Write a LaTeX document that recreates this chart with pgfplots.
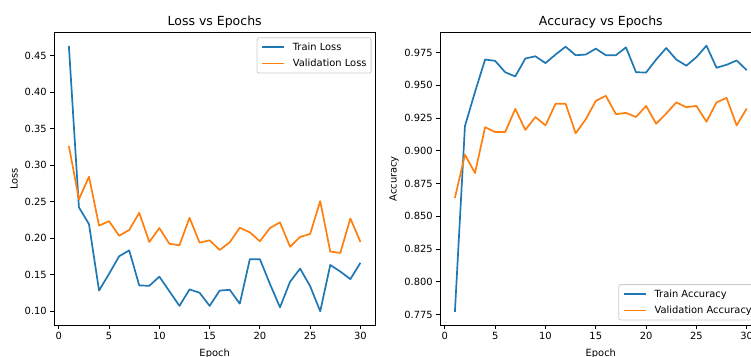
\documentclass[border=0pt]{standalone}
\usepackage{pgfplots}
\pgfplotsset{compat=1.18}
\usepackage{fontspec}
\setmainfont{DejaVu Sans}
\definecolor{tabblue}{HTML}{1F77B4}
\definecolor{taborange}{HTML}{FF7F0E}
\pgfplotsset{
  mplstyle/.style={
    scale only axis,
    anchor=south west,
    xmin=-0.45, xmax=31.45,
    xtick={0,5,...,30},
    tick align=outside,
    xtick pos=lower, ytick pos=left,
    major tick length=4pt,
    every tick/.style={black, line width=0.9pt},
    axis line style={line width=0.9pt, black},
    tick label style={font=\fontsize{9.9}{11}\selectfont},
    /pgf/number format/assume math mode=true,
    every axis title shift=0pt,
    title style={font=\fontsize{12.5}{14}\selectfont, at={(axis description cs:0.5,1)}, anchor=base, yshift=6.7pt, inner sep=0pt},
    xlabel style={font=\fontsize{9.9}{11}\selectfont, at={(axis description cs:0.5,0)}, anchor=north, yshift=-24pt, inner sep=0pt},
    label style={font=\fontsize{9.9}{11}\selectfont},
    legend cell align=left,
    legend image code/.code={\draw[#1, line width=1.6pt] (0pt,0pt) -- (22pt,0pt);},
    legend style={draw=black!20, fill=white, rounded corners=2pt, font=\fontsize{9.9}{11}\selectfont,
      inner xsep=4.5pt, inner ysep=1.5pt, row sep=0pt, line width=0.8pt,
      nodes={inner sep=0pt, minimum height=16.2pt},
      /tikz/every odd column/.append style={column sep=7.7pt}},
    every axis plot/.append style={line width=1.7pt, line join=round, mark=none},
  }
}
\begin{document}
\begin{tikzpicture}[x=1pt,y=1pt]
\begin{axis}[mplstyle,
  at={(54.3pt,31pt)}, width=320.7pt, height=292.3pt,
  ymin=0.0808, ymax=0.4812,
  ytick={0.10,0.15,...,0.46},
  yticklabel style={/pgf/number format/.cd, fixed, fixed zerofill, precision=2},
  title={Loss vs Epochs}, xlabel={Epoch},
  ylabel={Loss},
  ylabel style={at={(axis description cs:-0.1257,0.5)}, anchor=center, rotate=0, inner sep=0pt},
  legend style={at={(1,1)}, anchor=north east, xshift=-3.5pt, yshift=-4.6pt},
]
\addplot[tabblue] coordinates {
(1,0.463)(2,0.242)(3,0.219)(4,0.128)(5,0.151)(6,0.175)(7,0.183)(8,0.135)(9,0.1345)(10,0.147)
(11,0.127)(12,0.107)(13,0.1295)(14,0.125)(15,0.107)(16,0.128)(17,0.129)(18,0.110)(19,0.171)(20,0.171)
(21,0.137)(22,0.105)(23,0.140)(24,0.158)(25,0.134)(26,0.0995)(27,0.163)(28,0.154)(29,0.1436)(30,0.166)};
\addlegendentry{Train Loss}
\addplot[taborange] coordinates {
(1,0.326)(2,0.253)(3,0.284)(4,0.217)(5,0.223)(6,0.203)(7,0.211)(8,0.2345)(9,0.1945)(10,0.2136)
(11,0.192)(12,0.190)(13,0.2277)(14,0.1936)(15,0.1968)(16,0.1836)(17,0.194)(18,0.214)(19,0.2077)(20,0.1955)
(21,0.2136)(22,0.2214)(23,0.188)(24,0.2014)(25,0.2055)(26,0.2505)(27,0.1814)(28,0.1795)(29,0.2268)(30,0.1945)};
\addlegendentry{Validation Loss}
\end{axis}
\begin{axis}[mplstyle,
  at={(440.3pt,31pt)}, width=321pt, height=292.3pt,
  ymin=0.767, ymax=0.9902,
  ytick={0.775,0.800,...,0.976},
  yticklabel style={/pgf/number format/.cd, fixed, fixed zerofill, precision=3},
  title={Accuracy vs Epochs}, xlabel={Epoch},
  ylabel={Accuracy},
  ylabel style={at={(axis description cs:-0.1442,0.5)}, anchor=center, rotate=0, inner sep=0pt},
  legend style={at={(1,0)}, anchor=south east, xshift=-4.6pt, yshift=4.6pt},
]
\addplot[tabblue] coordinates {
(1,0.777)(2,0.919)(3,0.945)(4,0.9697)(5,0.9687)(6,0.960)(7,0.9568)(8,0.9705)(9,0.9722)(10,0.967)
(11,0.9735)(12,0.9795)(13,0.973)(14,0.9735)(15,0.978)(16,0.973)(17,0.973)(18,0.979)(19,0.960)(20,0.9598)
(21,0.9697)(22,0.9785)(23,0.9697)(24,0.965)(25,0.9715)(26,0.9803)(27,0.9634)(28,0.9657)(29,0.969)(30,0.9616)};
\addlegendentry{Train Accuracy}
\addplot[taborange] coordinates {
(1,0.864)(2,0.897)(3,0.883)(4,0.918)(5,0.9144)(6,0.9144)(7,0.932)(8,0.916)(9,0.9258)(10,0.9194)
(11,0.9359)(12,0.936)(13,0.9134)(14,0.924)(15,0.9381)(16,0.942)(17,0.928)(18,0.929)(19,0.9258)(20,0.9343)
(21,0.9207)(22,0.9285)(23,0.937)(24,0.9333)(25,0.9343)(26,0.9222)(27,0.937)(28,0.9404)(29,0.9194)(30,0.9323)};
\addlegendentry{Validation Accuracy}
\end{axis}
\pgfresetboundingbox
\path[use as bounding box] (0pt,0pt) rectangle (751pt,356pt);
\end{tikzpicture}
\end{document}
